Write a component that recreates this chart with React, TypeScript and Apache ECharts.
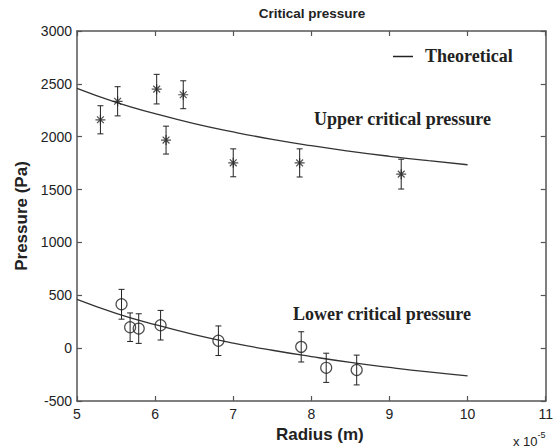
import React, { useEffect, useRef } from "react";
import * as echarts from "echarts";

// Theoretical curves
const theoX = [5, 5.5, 6, 6.5, 7, 7.5, 8, 8.5, 9, 9.5, 10];
const upperTheo = [2457, 2325, 2218, 2124, 2045, 1975, 1915, 1862, 1815, 1773, 1735];
const lowerTheo = [462, 330, 222, 128, 48, -20, -80, -135, -182, -225, -263];

// Measured points
const upperX = [5.3, 5.52, 6.02, 6.36, 6.14, 7.0, 7.85, 9.15];
const upperY = [2160, 2335, 2450, 2397, 1968, 1753, 1752, 1646];
const upperErr = [133, 138, 140, 132, 132, 132, 133, 141];

const lowerX = [5.57, 5.68, 5.79, 6.07, 6.81, 7.87, 8.19, 8.58];
const lowerY = [415, 198, 185, 217, 70, 12, -186, -207];
const lowerErr = [141, 135, 140, 140, 140, 143, 138, 141];

const xTicks = { min: 5, max: 11, interval: 1 };
const yTicks = { min: -500, max: 3000, interval: 500 };

const INK = "#222";
const AXIS = "#555";
const SANS = "'Liberation Sans', Arial, Helvetica, sans-serif";
const SERIF = "'Liberation Serif', 'Times New Roman', serif";

const asterisk =
  "path://M5,0L5,10M0,5L10,5M1.6,1.6L8.4,8.4M1.6,8.4L8.4,1.6";

function errRender(params: any, api: any) {
  const x = api.value(0);
  const lo = api.value(1);
  const hi = api.value(2);
  const t = api.coord([x, hi]);
  const b = api.coord([x, lo]);
  const w = 3;
  const st = { stroke: INK, lineWidth: 1 };
  return {
    type: "group",
    children: [
      { type: "line", shape: { x1: t[0], y1: t[1], x2: b[0], y2: b[1] }, style: st },
      { type: "line", shape: { x1: t[0] - w, y1: t[1], x2: t[0] + w, y2: t[1] }, style: st },
      { type: "line", shape: { x1: b[0] - w, y1: b[1], x2: b[0] + w, y2: b[1] }, style: st },
    ],
  };
}

export default function App() {
  const ref = useRef<HTMLDivElement>(null);
  useEffect(() => {
    if (!ref.current) return;
    const chart = echarts.init(ref.current, undefined, { renderer: "svg" });
    const axisLine = { show: true, onZero: false, lineStyle: { color: AXIS, width: 1.5 } };
    const tick = { show: true, inside: true, length: 5, lineStyle: { color: AXIS, width: 1.2 } };
    const plain = (v: number) => String(v);
    chart.setOption({
      animation: false,
      backgroundColor: "#fff",
      grid: { left: 77, right: 8, top: 31, bottom: 46, containLabel: false },
      xAxis: [
        {
          type: "value",
          position: "bottom",
          ...xTicks,
          axisLine,
          axisTick: tick,
          splitLine: { show: false },
          axisLabel: { fontSize: 14, color: INK, margin: 6, fontFamily: SANS, formatter: plain },
          name: "Radius (m)",
          nameLocation: "middle",
          nameGap: 25,
          nameTextStyle: {
            fontSize: 17,
            fontWeight: "bold",
            color: INK,
            fontFamily: SANS,
            padding: [0, 0, 0, 17],
          },
        },
        {
          type: "value",
          position: "top",
          ...xTicks,
          axisLine,
          axisTick: tick,
          splitLine: { show: false },
          axisLabel: { show: false },
        },
      ],
      yAxis: [
        {
          type: "value",
          position: "left",
          ...yTicks,
          axisLine,
          axisTick: tick,
          splitLine: { show: false },
          axisLabel: { fontSize: 14, color: INK, margin: 5, fontFamily: SANS, formatter: plain },
          name: "Pressure (Pa)",
          nameLocation: "middle",
          nameGap: 33,
          nameTextStyle: { fontSize: 17, fontWeight: "bold", color: INK, fontFamily: SANS },
        },
        {
          type: "value",
          position: "right",
          ...yTicks,
          axisLine,
          axisTick: tick,
          splitLine: { show: false },
          axisLabel: { show: false },
        },
      ],
      graphic: [
        {
          type: "text",
          x: 312,
          y: 13.5,
          style: {
            text: "Critical pressure",
            font: `bold 13.5px ${SANS}`,
            fill: INK,
            align: "center",
            verticalAlign: "middle",
          },
        },
        {
          type: "line",
          shape: { x1: 393, y1: 56.5, x2: 413, y2: 56.5 },
          style: { stroke: INK, lineWidth: 1.5 },
        },
        {
          type: "text",
          x: 425,
          y: 56,
          style: {
            text: "Theoretical",
            font: `bold 18px ${SERIF}`,
            fill: INK,
            align: "left",
            verticalAlign: "middle",
          },
        },
        {
          type: "text",
          x: 402.5,
          y: 118.5,
          style: {
            text: "Upper critical pressure",
            font: `bold 18px ${SERIF}`,
            fill: INK,
            align: "center",
            verticalAlign: "middle",
          },
        },
        {
          type: "text",
          x: 382,
          y: 313.5,
          style: {
            text: "Lower critical pressure",
            font: `bold 18px ${SERIF}`,
            fill: INK,
            align: "center",
            verticalAlign: "middle",
          },
        },
        {
          type: "text",
          x: 513,
          y: 439,
          style: {
            text: "{b|x 10}{s|-5}",
            fill: INK,
            align: "left",
            verticalAlign: "middle",
            rich: {
              b: { fontSize: 13, fontFamily: SANS, fill: INK, verticalAlign: "bottom" },
              s: { fontSize: 9, fontFamily: SANS, fill: INK, verticalAlign: "top", padding: [0, 0, 8, 0] },
            },
          },
        },
      ],
      series: [
        {
          name: "Theoretical upper",
          type: "line",
          data: theoX.map((x, i) => [x, upperTheo[i]]),
          smooth: true,
          symbol: "none",
          lineStyle: { color: "#333", width: 1.3 },
          z: 2,
        },
        {
          name: "Theoretical lower",
          type: "line",
          data: theoX.map((x, i) => [x, lowerTheo[i]]),
          smooth: true,
          symbol: "none",
          lineStyle: { color: "#333", width: 1.3 },
          z: 2,
        },
        {
          name: "Upper error",
          type: "custom",
          renderItem: errRender,
          encode: { x: 0, y: [1, 2] },
          data: upperX.map((x, i) => [x, upperY[i] - upperErr[i], upperY[i] + upperErr[i]]),
          z: 3,
        },
        {
          name: "Lower error",
          type: "custom",
          renderItem: errRender,
          encode: { x: 0, y: [1, 2] },
          data: lowerX.map((x, i) => [x, lowerY[i] - lowerErr[i], lowerY[i] + lowerErr[i]]),
          z: 3,
        },
        {
          name: "Upper critical pressure",
          type: "scatter",
          data: upperX.map((x, i) => [x, upperY[i]]),
          symbol: asterisk,
          symbolSize: 10,
          itemStyle: { color: "none", borderColor: INK, borderWidth: 1.2 },
          z: 4,
        },
        {
          name: "Lower critical pressure",
          type: "scatter",
          data: lowerX.map((x, i) => [x, lowerY[i]]),
          symbol: "circle",
          symbolSize: 11,
          itemStyle: { color: "none", borderColor: INK, borderWidth: 1.2 },
          z: 4,
        },
      ],
    });
    return () => chart.dispose();
  }, []);
  return (
    <div
      ref={ref}
      style={{ position: "fixed", left: 0, top: 0, width: 556, height: 448, background: "#fff" }}
    />
  );
}
